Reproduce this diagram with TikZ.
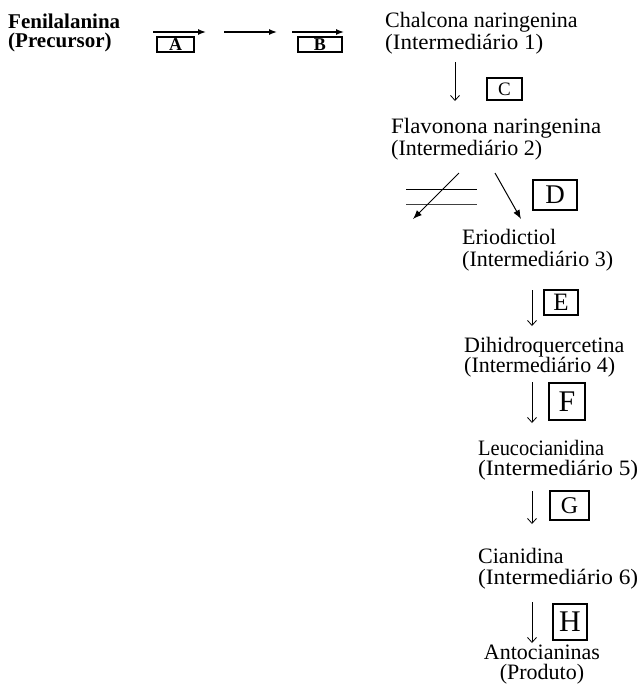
\documentclass[tikz,border=0pt]{standalone}
\usepackage{fontspec}
\usepackage{graphicx}
\setmainfont{Liberation Serif}
\usetikzlibrary{arrows.meta}
\newcommand\fitw[2]{\resizebox{#1}{\height}{#2}}
\begin{document}
\begin{tikzpicture}[x=1pt,y=-1pt,
  lbl/.style={anchor=base west, align=left, inner sep=0pt, font=\fontsize{22}{20}\selectfont},
  lblc/.style={anchor=base, align=center, inner sep=0pt, font=\fontsize{22}{20}\selectfont},
  ebox/.style={draw, line width=1.1pt, inner sep=0pt},
  harrow/.style={line width=1.4pt, -{Latex[length=8pt,width=6pt]}},
  varrow/.style={line width=0.8pt, -{Straight Barb[length=5pt,width=9pt]}},
  darrow/.style={line width=1pt, -{Latex[length=9pt,width=7pt]}},
  bar/.style={line width=1pt}]
\useasboundingbox (0,0) rectangle (639,686);

% texts (anchor = baseline of the last line)
\node[lbl, font=\fontsize{21}{19}\selectfont\bfseries] (fen) at (8,47) {Fenilalanina\\(Precursor)};
\node[lbl] (cha) at (385,49) {Chalcona naringenina\\\fitw{158pt}{(Intermediário 1)}};
\node[lbl] (fla) at (391,155) {\fitw{210pt}{Flavonona naringenina}\\(Intermediário 2)};
\node[lbl] (eri) at (462,266) {Eriodictiol\\[2pt](Intermediário 3)};
\node[lbl] (dih) at (464,372) {Dihidroquercetina\\(Intermediário 4)};
\node[lbl] (leu) at (478,475) {\fitw{126pt}{Leucocianidina}\\\fitw{160pt}{(Intermediário 5)}};
\node[lbl] (cia) at (478,584) {Cianidina\\[1pt]\fitw{160pt}{(Intermediário 6)}};
\node[lblc] (ant) at (542,679) {Antocianinas\\(Produto)};

% enzyme boxes
\node[ebox, minimum width=37pt, minimum height=15pt, font=\fontsize{18}{18}\selectfont\bfseries] (A) at (175.5,44.5) {A};
\node[ebox, minimum width=44pt, minimum height=15pt, font=\fontsize{18}{18}\selectfont\bfseries] (B) at (320,44.5) {B};
\node[ebox, minimum width=35pt, minimum height=22pt, font=\fontsize{19}{19}\selectfont] (C) at (504.5,89) {C};
\node[ebox, minimum width=44pt, minimum height=30pt, font=\fontsize{27}{27}\selectfont] (D) at (555,195) {D};
\node[ebox, minimum width=34pt, minimum height=25pt, font=\fontsize{25}{25}\selectfont] (E) at (561,302.5) {E};
\node[ebox, minimum width=36pt, minimum height=37pt, font=\fontsize{30}{30}\selectfont] (F) at (567,401.5) {F};
\node[ebox, minimum width=39pt, minimum height=29pt, font=\fontsize{24}{24}\selectfont] (G) at (569.5,505.5) {G};
\node[ebox, minimum width=34pt, minimum height=36pt, font=\fontsize{30}{30}\selectfont] (H) at (570,622) {H};

% arrow end points
\coordinate (h1s) at (153,32); \coordinate (h1e) at (206,32);
\coordinate (h2s) at (224,32); \coordinate (h2e) at (277,32);
\coordinate (h3s) at (292,32); \coordinate (h3e) at (344,32);
\coordinate (vCs) at (455,62); \coordinate (vCe) at (455,101);
\coordinate (d1s) at (459,173); \coordinate (d1e) at (413,219);
\coordinate (d2s) at (495,173); \coordinate (d2e) at (521,219);
\coordinate (b1s) at (406,189); \coordinate (b1e) at (477,189);
\coordinate (b2s) at (406,204); \coordinate (b2e) at (477,204);
\coordinate (vEs) at (532,290); \coordinate (vEe) at (532,326);
\coordinate (vFs) at (532,382); \coordinate (vFe) at (532,423);
\coordinate (vGs) at (532,491); \coordinate (vGe) at (532,524);
\coordinate (vHs) at (532,602); \coordinate (vHe) at (532,643);

\draw[harrow] (h1s) -- (h1e);
\draw[harrow] (h2s) -- (h2e);
\draw[harrow] (h3s) -- (h3e);
\draw[varrow] (vCs) -- (vCe);
\draw[bar] (b1s) -- (b1e);
\draw[bar, black!75] (b2s) -- (b2e);
\draw[darrow] (d1s) -- (d1e);
\draw[darrow] (d2s) -- (d2e);
\draw[varrow] (vEs) -- (vEe);
\draw[varrow] (vFs) -- (vFe);
\draw[varrow] (vGs) -- (vGe);
\draw[varrow] (vHs) -- (vHe);
\end{tikzpicture}
\end{document}
